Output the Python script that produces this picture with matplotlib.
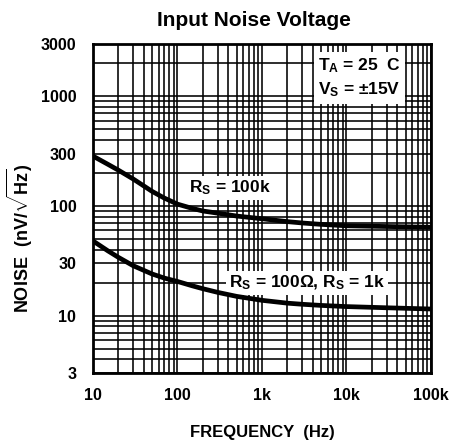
import matplotlib
matplotlib.use('Agg')
import matplotlib.pyplot as plt

plt.rcParams['font.family'] = ['Liberation Sans', 'DejaVu Sans']
plt.rcParams['font.weight'] = 'bold'
plt.rcParams['mathtext.fontset'] = 'custom'
plt.rcParams['mathtext.rm'] = 'Liberation Sans:bold'
plt.rcParams['mathtext.it'] = 'Liberation Sans:bold'
plt.rcParams['mathtext.bf'] = 'Liberation Sans:bold'

# Data
freq = [10, 15, 20, 30, 50, 70, 100, 150, 200, 300, 500, 1000, 2000, 3000, 5000, 10000, 30000, 100000]
noise_100k = [285, 240, 212, 176, 136, 118, 104, 95, 90, 86, 81, 76.5, 72, 70, 68, 66, 65, 64]
noise_1k = [48, 39, 34, 28.5, 24, 22, 20.5, 18.7, 17.6, 16.3, 15, 13.8, 13, 12.7, 12.4, 12.1, 11.8, 11.5]

xticks = [10, 100, 1000, 10000, 100000]
xtick_labels = ['10', '100', '1k', '10k', '100k']
yticks = [3, 10, 30, 100, 300, 1000, 3000]
ytick_labels = ['3', '10', '30', '100', '300', '1000', '3000']

fig = plt.figure(figsize=(4.53, 4.44), dpi=100)
ax = fig.add_axes([0.2053, 0.1599, 0.7461, 0.741])

ax.plot(freq, noise_100k, color='black', lw=3.4, zorder=4, solid_joinstyle='round')
ax.plot(freq, noise_1k, color='black', lw=3.4, zorder=4, solid_joinstyle='round')

ax.set_xscale('log')
ax.set_yscale('log')
ax.set_xlim(10, 100000)
ax.set_ylim(3, 3000)

ax.set_xticks(xticks)
ax.set_xticklabels(xtick_labels)
ax.set_yticks(yticks)
ax.set_yticklabels(ytick_labels)
ax.xaxis.set_minor_locator(matplotlib.ticker.LogLocator(base=10, subs=range(2, 10)))
ax.yaxis.set_minor_locator(matplotlib.ticker.LogLocator(base=10, subs=range(1, 10)))
ax.xaxis.set_minor_formatter(matplotlib.ticker.NullFormatter())
ax.yaxis.set_minor_formatter(matplotlib.ticker.NullFormatter())
ax.tick_params(which='both', length=0, labelsize=11.5)
ax.tick_params(axis='x', pad=11)
ax.tick_params(axis='y', pad=12)

ax.grid(which='both', color='black', lw=1.15, zorder=1)
ax.set_axisbelow(True)
for s in ax.spines.values():
    s.set_linewidth(2)

box = dict(facecolor='white', edgecolor='none', pad=2)
ax.text(0.405, 0.562, r'R$_\mathregular{S}$ = 100k', transform=ax.transAxes,
        ha='center', va='center', fontsize=12.5, bbox=box, zorder=3)
ax.text(0.633, 0.274, r'R$_\mathregular{S}$ = 100$\Omega$, R$_\mathregular{S}$ = 1k',
        transform=ax.transAxes, ha='center', va='center', fontsize=12.5, bbox=box, zorder=3)
ax.text(0.666, 0.897, 'T$_\\mathregular{A}$ = 25  C\nV$_\\mathregular{S}$ = \u00b115V',
        transform=ax.transAxes, ha='left', va='center', fontsize=12.5, linespacing=1.4,
        bbox=dict(facecolor='white', edgecolor='none', pad=3), zorder=3)

fig.text(254 / 453, 1 - 20 / 444, 'Input Noise Voltage', ha='center', va='center',
         fontsize=15, fontweight='bold')
fig.text(262 / 453, 1 - 432 / 444, 'FREQUENCY  (Hz)', ha='center', va='center',
         fontsize=12, fontweight='bold')
fig.text(20 / 453, 1 - 238 / 444, r'NOISE  (nV/$\sqrt{\mathregular{Hz}}$)', ha='center', va='center',
         rotation=90, fontsize=13, fontweight='bold')

fig.savefig('out.png', dpi=100)
